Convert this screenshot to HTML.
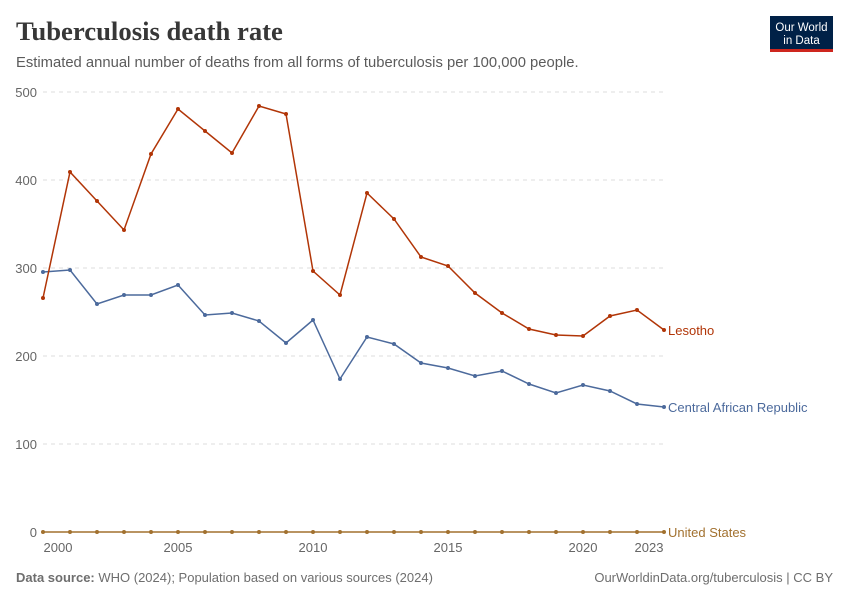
<!DOCTYPE html>
<html><head><meta charset="utf-8"><style>
body{margin:0;background:#fff;}
svg{display:block;font-family:"Liberation Sans",sans-serif;}
</style></head><body>
<svg id="s" width="850" height="600" viewBox="0 0 850 600" xmlns="http://www.w3.org/2000/svg">
<text x="16" y="40" font-family="Liberation Serif,serif" font-size="26.7" font-weight="bold" fill="#373737">Tuberculosis death rate</text>
<text x="16" y="67" font-size="14.8" fill="#5b5b5b">Estimated annual number of deaths from all forms of tuberculosis per 100,000 people.</text>
<rect x="770" y="16" width="63" height="36" fill="#002147"/>
<rect x="770" y="49" width="63" height="3" fill="#ce261e"/>
<text x="801.5" y="31" font-size="11.5" fill="#fff" text-anchor="middle">Our World</text>
<text x="801.5" y="44" font-size="11.5" fill="#fff" text-anchor="middle">in Data</text>
<g stroke="#ddd" stroke-dasharray="4,4" stroke-width="1">
<line x1="43" x2="664" y1="92" y2="92"/><line x1="43" x2="664" y1="180" y2="180"/>
<line x1="43" x2="664" y1="268" y2="268"/><line x1="43" x2="664" y1="356" y2="356"/>
<line x1="43" x2="664" y1="444" y2="444"/>
</g>
<g font-size="13" fill="#666" text-anchor="end">
<text x="37" y="97">500</text><text x="37" y="185">400</text><text x="37" y="273">300</text>
<text x="37" y="361">200</text><text x="37" y="449">100</text><text x="37" y="537">0</text>
</g>
<g font-size="13" fill="#666" text-anchor="middle">
<text x="58" y="552">2000</text><text x="178" y="552">2005</text><text x="313" y="552">2010</text>
<text x="448" y="552">2015</text><text x="583" y="552">2020</text><text x="649" y="552">2023</text>
</g>
<g id="d"></g>
<text x="668" y="335" font-size="13" fill="#b13507">Lesotho</text>
<text x="668" y="412" font-size="13" fill="#4c6a9c">Central African Republic</text>
<text x="668" y="537" font-size="13" fill="#a2712f">United States</text>
<text x="16" y="582" font-size="13" fill="#6e6e6e"><tspan font-weight="bold">Data source:</tspan> WHO (2024); Population based on various sources (2024)</text>
<text x="833" y="582" font-size="13" fill="#6e6e6e" text-anchor="end">OurWorldinData.org/tuberculosis | CC BY</text>
</svg>
<script>
var L=[298,172,201,230,154,109,131,153,106,114,271,295,193,219,257,266,293,313,329,335,336,316,310,330];
var C=[272,270,304,295,295,285,315,313,321,343,320,379,337,344,363,368,376,371,384,393,385,391,404,407];
var U=L.map(function(){return 532});
var g=document.getElementById('d'),h='';
[[U,'#a2712f'],[C,'#4c6a9c'],[L,'#b13507']].forEach(function(s){
 var p=s[0].map(function(y,i){return (43+i*27)+','+y}).join(' ');
 h+='<polyline points="'+p+'" fill="none" stroke="'+s[1]+'" stroke-width="1.5"/>';
 s[0].forEach(function(y,i){h+='<circle cx="'+(43+i*27)+'" cy="'+y+'" r="2" fill="'+s[1]+'"/>';});
});
g.innerHTML=h;
</script>
</body></html>
